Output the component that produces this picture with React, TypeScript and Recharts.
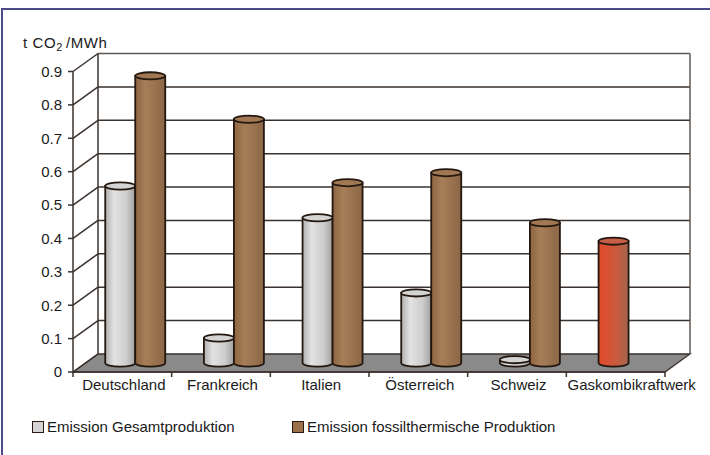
import React from 'react';
import { BarChart, Bar, XAxis, YAxis, CartesianGrid, Legend, Cell } from 'recharts';

// ---- data ----
const categories = ['Deutschland', 'Frankreich', 'Italien', 'Österreich', 'Schweiz', 'Gaskombikraftwerk'];
const gesamtproduktion = [0.53, 0.075, 0.435, 0.21, 0.01, 0.365];
const fossilthermisch: (number | null)[] = [0.86, 0.73, 0.54, 0.57, 0.42, null];
const yTicks = [0, 0.1, 0.2, 0.3, 0.4, 0.5, 0.6, 0.7, 0.8, 0.9];
const seriesNames = ['Emission Gesamtproduktion', 'Emission fossilthermische Produktion'];
// palette key per category for the first series (the reference plant is highlighted)
const gesamtColors = ['gray', 'gray', 'gray', 'gray', 'gray', 'red'];

const data = categories.map((name, i) => ({
  name,
  gesamt: gesamtproduktion[i],
  fossil: fossilthermisch[i],
}));

// ---- layout ----
const W = 710;
const H = 455;
const FONT = "'Liberation Sans', Arial, sans-serif";
const FS = 15;
const Y_AXIS_W = 40;
const MARGIN = { top: 71.5, right: 45, left: 33, bottom: 13 };
const PLOT_LEFT = MARGIN.left + Y_AXIS_W;
const PLOT_W = W - PLOT_LEFT - MARGIN.right;
const BAND = PLOT_W / categories.length;
const DEPTH_X = 25; // 3D depth offset of the back wall
const DEPTH_Y = -18;
const LINE = '#3a322e';
const EDGE = '#5e5752';
const TEXT = '#1a1a1a';
const OUTLINE = '#231710';

const PALETTES: Record<string, { id: string; top: string }> = {
  gray: { id: 'cylGray', top: '#d4d4d4' },
  brown: { id: 'cylBrown', top: '#a07852' },
  red: { id: 'cylRed', top: '#c65e48' },
};

// Cylinder drawn half-way into the depth of the floor
const Cylinder = (props: any) => {
  const { x, y, width, height, fill } = props;
  if (x == null || y == null || !width || height == null) return null;
  const p = PALETTES[fill] ?? PALETTES.gray;
  const left = x + DEPTH_X / 2;
  const right = left + width;
  const top = y + DEPTH_Y / 2;
  const bottom = y + height + DEPTH_Y / 2;
  const rx = width / 2;
  const ry = 3.6;
  const body = `M${left},${top} L${left},${bottom} A${rx},${ry} 0 0 0 ${right},${bottom} L${right},${top} Z`;
  return (
    <g>
      <path d={body} fill={`url(#${p.id})`} stroke={OUTLINE} strokeWidth={1.8} />
      <ellipse cx={left + rx} cy={top} rx={rx} ry={ry} fill={p.top} stroke={OUTLINE} strokeWidth={1.8} />
    </g>
  );
};

// Horizontal grid: back wall lines, side wall diagonals, floor and wall edges
const gridLine = (props: any) => {
  const { x1, x2, y1 } = props;
  const top = typeof props.y === 'number' ? props.y : MARGIN.top;
  const height = typeof props.height === 'number' ? props.height : 300.5;
  const bottom = top + height;
  const isBottom = Math.abs(y1 - bottom) < 0.5;
  const isTop = Math.abs(y1 - top) < 0.5;
  return (
    <g key={`grid-${props.index}`}>
      {isBottom && (
        <polygon
          points={`${x1},${y1} ${x2},${y1} ${x2 + DEPTH_X},${y1 + DEPTH_Y} ${x1 + DEPTH_X},${y1 + DEPTH_Y}`}
          fill="#8a8a8a"
          stroke={LINE}
          strokeWidth={1.3}
        />
      )}
      {!isBottom && (
        <line x1={x1 + DEPTH_X} y1={y1 + DEPTH_Y} x2={x2 + DEPTH_X} y2={y1 + DEPTH_Y} stroke={isTop ? EDGE : LINE} strokeWidth={1.5} />
      )}
      <line x1={x1} y1={y1} x2={x1 + DEPTH_X} y2={y1 + DEPTH_Y} stroke={LINE} strokeWidth={1.5} />
      {isTop && (
        <>
          <line x1={x1 + DEPTH_X} y1={top + DEPTH_Y} x2={x1 + DEPTH_X} y2={bottom + DEPTH_Y} stroke={LINE} strokeWidth={1.5} />
          <line x1={x2 + DEPTH_X} y1={top + DEPTH_Y} x2={x2 + DEPTH_X} y2={bottom + DEPTH_Y} stroke={EDGE} strokeWidth={1.5} />
        </>
      )}
    </g>
  );
};

const TICK_SIZE = 6;
const TICK_MARGIN = 2;

const CategoryTick = (props: any) => {
  const { x, y, payload, index } = props;
  const axisY = y - TICK_SIZE - TICK_MARGIN;
  const last = index === categories.length - 1;
  // the long last label is nudged right so it stays inside the frame
  const labelX = last ? x + 16 : x + 1.5;
  return (
    <g>
      <line x1={x - BAND / 2} y1={axisY} x2={x - BAND / 2} y2={axisY + 5} stroke={LINE} strokeWidth={1.5} />
      {last && <line x1={x + BAND / 2} y1={axisY} x2={x + BAND / 2} y2={axisY + 5} stroke={LINE} strokeWidth={1.5} />}
      <text x={labelX} y={axisY + 18} textAnchor="middle" fontFamily={FONT} fontSize={FS} fill={TEXT}>
        {payload.value}
      </text>
    </g>
  );
};

const AxisTitle = (props: any) => {
  const vb = props.viewBox || { x: MARGIN.left, y: MARGIN.top };
  return (
    <text x={vb.x - 10} y={vb.y - 24} fontFamily={FONT} fontSize={FS} fill={TEXT} letterSpacing={0.6}>
      t CO<tspan fontSize={11} dy={3}>2</tspan>
      <tspan dy={-3} dx={3}>/MWh</tspan>
    </text>
  );
};

const legendSwatches = ['#d4d4d4', '#9c7048'];
const legendLefts = [32, 292];

const LegendContent = () => (
  <div style={{ position: 'relative', width: W, height: 40, fontFamily: FONT, fontSize: FS, color: TEXT }}>
    {seriesNames.map((name, i) => (
      <div key={name} style={{ position: 'absolute', left: legendLefts[i], top: 16, display: 'flex', alignItems: 'center', whiteSpace: 'nowrap' }}>
        <span style={{ display: 'inline-block', width: 10, height: 10, background: legendSwatches[i], border: '1.6px solid #2a1c14', marginRight: 3 }} />
        <span>{name}</span>
      </div>
    ))}
  </div>
);

export default function App() {
  return (
    <div style={{ position: 'absolute', left: 0, top: 0, width: W, height: H, background: '#fff', overflow: 'hidden' }}>
      <div style={{ position: 'absolute', left: 1, top: 8, width: W, height: H, borderLeft: '2px solid #4b4a86', borderTop: '2px solid #4b4a86' }} />
      <BarChart width={W} height={H} data={data} margin={MARGIN} barCategoryGap="20%" barGap={0}>
        <defs>
          <linearGradient id="cylGray" x1="0" y1="0" x2="1" y2="0">
            <stop offset="0%" stopColor="#b0b0b0" />
            <stop offset="30%" stopColor="#e2e2e2" />
            <stop offset="70%" stopColor="#cdcdcd" />
            <stop offset="100%" stopColor="#a2a2a2" />
          </linearGradient>
          <linearGradient id="cylBrown" x1="0" y1="0" x2="1" y2="0">
            <stop offset="0%" stopColor="#8e6442" />
            <stop offset="35%" stopColor="#a67e58" />
            <stop offset="100%" stopColor="#8c6646" />
          </linearGradient>
          <linearGradient id="cylRed" x1="0" y1="0" x2="1" y2="0">
            <stop offset="0%" stopColor="#e24a2a" />
            <stop offset="55%" stopColor="#cc5a3c" />
            <stop offset="100%" stopColor="#a2644e" />
          </linearGradient>
        </defs>
        <CartesianGrid vertical={false} horizontal={gridLine} />
        <XAxis
          dataKey="name"
          height={30}
          axisLine={{ stroke: LINE, strokeWidth: 1.5 }}
          tickLine={false}
          tickSize={TICK_SIZE}
          tickMargin={TICK_MARGIN}
          interval={0}
          tick={<CategoryTick />}
        />
        <YAxis
          width={Y_AXIS_W}
          domain={[0, 0.9]}
          ticks={yTicks}
          interval={0}
          axisLine={{ stroke: LINE, strokeWidth: 1.5 }}
          tickLine={{ stroke: LINE, strokeWidth: 1.5 }}
          tickSize={5}
          tickMargin={6}
          tick={{ fontFamily: FONT, fontSize: FS, fill: TEXT }}
          tickFormatter={(v: number) => String(v)}
          label={<AxisTitle />}
        />
        <Legend verticalAlign="bottom" height={40} content={<LegendContent />} wrapperStyle={{ left: 0, width: W }} />
        <Bar dataKey="gesamt" name={seriesNames[0]} fill="gray" shape={<Cylinder />} isAnimationActive={false}>
          {data.map((_, i) => (
            <Cell key={i} fill={gesamtColors[i]} />
          ))}
        </Bar>
        <Bar dataKey="fossil" name={seriesNames[1]} fill="brown" shape={<Cylinder />} isAnimationActive={false} />
      </BarChart>
    </div>
  );
}
